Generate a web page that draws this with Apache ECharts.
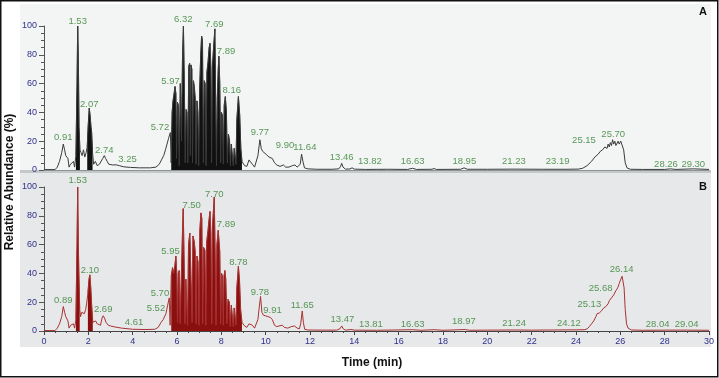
<!DOCTYPE html>
<html><head><meta charset="utf-8">
<script src="https://cdn.jsdelivr.net/npm/echarts@6/dist/echarts.min.js"></script>
<style>html,body{margin:0;padding:0;background:#fff}#c{width:719px;height:378px}</style>
</head><body><div id="c"></div>
<script>
// Chromatogram A (time min, relative abundance %)
const traceA = [
[0,0.3],[0.5,0.3],[0.6,2],[0.7,6],[0.8,12],[0.87,18],[0.93,14],[0.98,10],[1.03,11],[1.08,8],[1.13,2],[1.2,4],[1.27,3],[1.33,6],[1.38,2],[1.44,10],[1.49,60],[1.52,100],[1.55,78],[1.58,30],[1.62,14],[1.67,12],[1.72,10],[1.78,14],[1.84,9],[1.9,12],[1.95,16],[1.99,30],[2.04,43],[2.08,38],[2.12,30],[2.15,26],[2.19,12],[2.24,4],[2.32,6],[2.4,3],[2.5,4],[2.58,5],[2.65,8],[2.72,10],[2.78,8],[2.85,6],[2.92,4],[3.0,3],[3.1,3.5],[3.25,3.6],[3.4,3],[3.6,2.2],[3.9,1.8],[4.3,1.5],[4.8,1.5],[5.05,2],[5.2,4],[5.3,7],[5.4,10],[5.48,14],[5.55,18],[5.62,22],[5.7,26],
[5.74,5],[5.78,40],[5.82,48],[5.86,52],[5.91,58],[5.95,53],[5.98,8],[6.02,47],[6.06,45],[6.1,3],[6.15,60],[6.2,20],[6.25,80],[6.29,100],[6.33,60],[6.37,5],[6.41,42],[6.45,40],[6.49,5],[6.53,72],[6.57,74],[6.6,10],[6.63,73],[6.67,70],[6.7,5],[6.74,62],[6.78,58],[6.82,50],[6.86,4],[6.9,48],[6.94,40],[6.98,3],[7.02,55],[7.07,80],[7.11,93],[7.15,90],[7.19,5],[7.23,62],[7.27,60],[7.31,3],[7.35,68],[7.4,75],[7.45,85],[7.49,88],[7.53,70],[7.56,5],[7.6,72],[7.65,85],[7.71,98],[7.75,40],[7.78,3],[7.82,50],[7.86,70],[7.89,79],[7.93,60],[7.97,5],[8.0,40],[8.05,38],[8.09,4],[8.13,45],[8.18,51],[8.23,40],[8.27,5],[8.32,25],[8.37,20],[8.41,3],[8.45,18],[8.5,17],[8.54,3],[8.58,15],[8.62,14],[8.66,4],[8.7,35],[8.77,51],[8.83,38],[8.88,15],[8.93,6],[8.98,5],[9.05,3],[9.15,2.5],[9.25,7],[9.32,8],[9.4,4],[9.5,2],[9.58,3],[9.65,10],[9.74,21],[9.8,15],[9.86,13],[9.95,12],[10.05,10.5],[10.15,9],[10.3,8],[10.4,5],[10.5,3.5],[10.65,2.5],[10.8,3.5],[10.9,2],[11.05,2],[11.2,3],[11.32,3.5],[11.42,2],[11.5,1.5],[11.56,4],[11.62,11],[11.68,6],[11.75,1.5],[11.9,0.8],[12.3,0.5],[13.0,0.5],[13.3,0.8],[13.38,2.5],[13.43,4.6],[13.49,2],[13.6,0.6],[13.8,0.7],[13.9,1.5],[14.0,0.6],[14.5,0.4],[15.5,0.5],[16.4,0.4],[16.63,1.2],[16.8,0.4],[17.5,0.5],[17.6,1],[17.7,0.4],[18.8,0.5],[18.95,1.5],[19.1,0.5],[20,0.5],[21.2,0.6],[22.5,0.5],[23.5,0.5],[24.1,0.6],[24.3,1.2],[24.5,3],[24.7,6],[24.85,9],[25.0,11],[25.1,13],[25.2,14],[25.3,16],[25.4,15],[25.45,18],[25.5,16],[25.55,19],[25.6,17],[25.65,21],[25.7,18],[25.75,20],[25.8,17],[25.9,20],[25.95,18],[26.02,20],[26.08,19],[26.15,14],[26.22,5],[26.3,1.5],[26.45,0.5],[27,0.4],[28,0.4],[28.26,0.8],[28.5,0.4],[29.3,0.8],[30,0.4]
];
// Chromatogram B
const traceB = [
[0,0.3],[0.5,0.3],[0.6,2],[0.7,5],[0.8,10],[0.87,17],[0.93,13],[0.98,10],[1.03,9],[1.08,7],[1.13,2],[1.2,4],[1.27,3],[1.33,5],[1.38,2],[1.44,8],[1.49,60],[1.52,100],[1.55,60],[1.57,42],[1.61,15],[1.65,10],[1.7,13],[1.76,14],[1.82,12],[1.88,15],[1.93,20],[1.98,26],[2.03,36],[2.07,39],[2.11,30],[2.15,18],[2.2,6],[2.26,5],[2.33,7],[2.4,5],[2.48,6],[2.55,4],[2.62,9],[2.67,10.6],[2.73,9],[2.8,6],[2.9,4],[3.0,3.5],[3.2,2.8],[3.5,2],[4.0,1.2],[4.6,1],[5.0,1.2],[5.15,2.5],[5.28,6],[5.38,8],[5.5,12],[5.58,18],[5.65,23],
[5.69,4],[5.74,38],[5.8,44],[5.85,40],[5.9,45],[5.95,52],[5.99,40],[6.02,6],[6.06,40],[6.1,42],[6.14,5],[6.2,40],[6.25,70],[6.28,85],[6.32,50],[6.36,5],[6.4,36],[6.44,35],[6.48,4],[6.52,60],[6.58,68],[6.64,68],[6.68,6],[6.72,66],[6.78,62],[6.82,55],[6.86,5],[6.9,52],[6.95,48],[6.99,4],[7.03,70],[7.08,82],[7.12,78],[7.16,5],[7.2,58],[7.26,56],[7.3,4],[7.34,62],[7.4,70],[7.45,78],[7.49,83],[7.53,68],[7.57,5],[7.61,75],[7.68,93],[7.72,55],[7.76,4],[7.8,60],[7.86,70],[7.89,71],[7.93,55],[7.97,5],[8.01,40],[8.05,38],[8.09,4],[8.12,38],[8.16,42],[8.2,36],[8.25,5],[8.3,22],[8.36,20],[8.4,3],[8.45,18],[8.5,17],[8.54,3],[8.58,16],[8.62,15],[8.66,4],[8.7,30],[8.77,45],[8.82,35],[8.87,15],[8.93,6],[8.98,5],[9.05,3.5],[9.15,2.5],[9.25,5],[9.32,6],[9.4,4],[9.5,2],[9.58,3],[9.65,8],[9.72,18],[9.77,24],[9.83,13],[9.9,11],[10.0,10.5],[10.1,10],[10.2,9.5],[10.3,8],[10.4,4],[10.5,3],[10.6,3.5],[10.75,4],[10.85,2.5],[11.0,2],[11.15,3],[11.3,3.5],[11.42,2],[11.52,1.5],[11.58,5],[11.65,13.9],[11.7,6],[11.76,1.2],[11.9,0.7],[12.5,0.6],[13.2,0.6],[13.35,1.5],[13.43,3.5],[13.5,1.5],[13.6,0.6],[13.85,1],[14,0.6],[15,0.5],[16.63,0.9],[17,0.5],[17.6,0.9],[18,0.5],[19,1],[19.2,0.5],[20,0.6],[21.24,0.7],[22,0.6],[23,0.7],[24,0.8],[24.4,0.9],[24.5,1.5],[24.6,3],[24.7,5],[24.8,7],[24.9,10],[24.95,12],[25.05,12.5],[25.15,14],[25.25,16],[25.35,17],[25.45,19],[25.5,21],[25.6,23],[25.7,25],[25.8,28],[25.88,30],[25.95,33],[26.02,36],[26.08,38],[26.13,38],[26.17,30],[26.22,15],[26.28,5],[26.35,2],[26.5,0.7],[27,0.5],[28.04,0.6],[29.04,0.6],[30,0.5]
];
// Peak annotations: [time, abundance, text]
const peakLabelsA = [
[0.87,22.4,'0.91'],[1.52,103.5,'1.53'],[2.04,45.8,'2.07'],[2.72,13.4,'2.74'],[3.77,7.4,'3.25'],[5.23,29.4,'5.72'],[5.71,61.8,'5.97'],[6.28,104.9,'6.32'],[7.68,101,'7.69'],[8.21,82.6,'7.89'],[8.47,55.6,'8.16'],[9.74,25.9,'9.77'],[10.87,17.4,'9.90'],[11.77,16,'11.64'],[13.43,8.8,'13.46'],[14.7,5.8,'13.82'],[16.63,5.8,'16.63'],[18.96,5.8,'18.95'],[21.2,5.8,'21.23'],[23.17,5.8,'23.19'],[24.36,20.4,'25.15'],[25.68,24.5,'25.70'],[28.06,4.2,'28.26'],[29.29,4.2,'29.30']
];
const peakLabelsB = [
[0.87,21.5,'0.89'],[1.52,104.9,'1.53'],[2.07,42.4,'2.10'],[2.67,15,'2.69'],[4.06,6,'4.61'],[5.05,15.9,'5.52'],[5.23,26.2,'5.70'],[5.71,55.6,'5.95'],[6.66,87.5,'7.50'],[7.68,95,'7.70'],[8.21,74.1,'7.89'],[8.77,48,'8.78'],[9.74,27.1,'9.78'],[10.31,14.6,'9.91'],[11.65,17.8,'11.65'],[13.46,8.1,'13.47'],[14.75,4.9,'13.81'],[16.63,4.9,'16.63'],[18.94,6.5,'18.97'],[21.21,5,'21.24'],[23.68,5,'24.12'],[24.6,18.5,'25.13'],[25.11,29.6,'25.68'],[26.06,43,'26.14'],[27.68,4.9,'28.04'],[28.99,4.9,'29.04']
];
// Integrated (filled) retention-time windows
const filledRanges = [[1.44, 1.62], [1.95, 2.22], [5.72, 8.96]];
const xMin = 0, xMax = 30, xStep = 2;
const yMin = 0, yMax = 100, yStep = 20;

const chart = echarts.init(document.getElementById('c'), null, {renderer:'canvas'});
const navy = '#2f308c';
const green = '#2f7f2f';
const FONT = 'Liberation Sans, Arial, sans-serif';
function filledParts(tr){ return filledRanges.map(r => tr.filter(p => p[0] >= r[0] && p[0] <= r[1])); }
function labels(arr){ return arr.map(a => ({value:[a[0],a[1]], name:a[2]})); }
function xAx(i, showLabels){
  return {gridIndex:i, type:'value', min:xMin, max:xMax, interval:xStep,
    axisLine:{show:true, onZero:false, lineStyle:{color: showLabels ? '#444' : '#8d9393', width:1}},
    axisTick:{show:showLabels, length:4, lineStyle:{color:'#444'}},
    minorTick:{show:showLabels, splitNumber:4, length:2, lineStyle:{color:'#444'}},
    axisLabel:{show:showLabels, color:navy, fontSize:9, fontFamily:FONT, margin:6},
    splitLine:{show:false}};
}
function yAx(i){
  return {gridIndex:i, type:'value', min:yMin, max:yMax, interval:yStep,
    axisLine:{show:true, lineStyle:{color:'#555', width:1}},
    axisTick:{show:true, length:5, lineStyle:{color:'#555'}},
    minorTick:{show:true, splitNumber:4, length:3, lineStyle:{color:'#555'}},
    axisLabel:{color:navy, fontSize:9, fontFamily:FONT, margin:7},
    splitLine:{show:false}};
}
function traceSeries(i, data, lineColor, fillColor){
  const parts = filledParts(data).map(d => ({type:'line', xAxisIndex:i, yAxisIndex:i, data:d, symbol:'none', silent:true,
     lineStyle:{width:0.6, color:fillColor}, areaStyle:{color:fillColor, opacity:1}, z:2}));
  return parts.concat([{type:'line', xAxisIndex:i, yAxisIndex:i, data:data, symbol:'none', silent:true,
     lineStyle:{width:1, color:lineColor}, z:3}]);
}
function labelSeries(i, arr){
  return {type:'scatter', xAxisIndex:i, yAxisIndex:i, data:labels(arr), symbolSize:2, clip:false,
    itemStyle:{color:'rgba(0,0,0,0)'}, silent:true, z:5,
    label:{show:true, position:'inside', formatter:'{b}', color:green, fontSize:9.5, fontFamily:FONT}};
}
chart.setOption({
  animation:false,
  backgroundColor:'#ffffff',
  grid:[{left:44, right:10, top:26, height:144},{left:44, right:10, top:187, height:144}],
  xAxis:[xAx(0,false), xAx(1,true)],
  yAxis:[yAx(0), yAx(1)],
  series:[
    ...traceSeries(0, traceA, '#3a3a3a', '#111111'),
    ...traceSeries(1, traceB, '#a83232', '#8a0f0f'),
    labelSeries(0, peakLabelsA),
    labelSeries(1, peakLabelsB)
  ],
  graphic:{elements:[
    {type:'rect', z:-10, shape:{x:20, y:4, width:691, height:166}, style:{fill:'#f3f5f4'}},
    {type:'rect', z:-10, shape:{x:20, y:171, width:691, height:176}, style:{fill:'#e7e8e9'}},
    {type:'rect', z:-9, shape:{x:20, y:170, width:691, height:3}, style:{fill:'#c4c8c8'}},
    {type:'rect', z:10, shape:{x:0.75, y:0.75, width:717, height:376}, style:{fill:null, stroke:'#111', lineWidth:1.5}},
    {type:'text', z:10, x:703, y:12, style:{text:'A', fill:'#111', font:'bold 11px '+FONT, align:'center', verticalAlign:'middle'}},
    {type:'text', z:10, x:703, y:187, style:{text:'B', fill:'#111', font:'bold 11px '+FONT, align:'center', verticalAlign:'middle'}},
    {type:'text', z:10, x:372, y:363, style:{text:'Time (min)', fill:'#111', font:'bold 12px '+FONT, align:'center', verticalAlign:'middle'}},
    {type:'text', z:10, x:10, y:182, rotation:Math.PI/2, style:{text:'Relative Abundance (%)', fill:'#111', font:'bold 12px '+FONT, align:'center', verticalAlign:'middle'}}
  ]}
});
</script></body></html>
